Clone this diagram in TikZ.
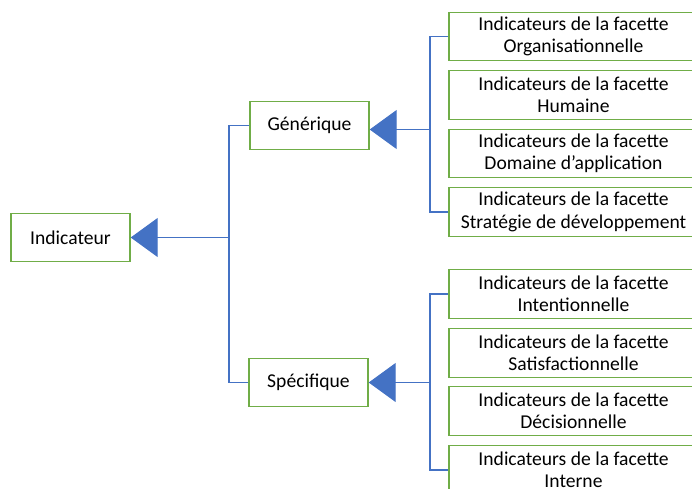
\documentclass[tikz,border=0pt]{standalone}
\usepackage{fontspec}
\setmainfont{Carlito}
\usetikzlibrary{arrows.meta}
\definecolor{boxgreen}{HTML}{70AD47}
\definecolor{linkblue}{HTML}{4472C4}
\tikzset{
  box/.style={draw=boxgreen, line width=1.4pt, fill=white, inner sep=0pt,
    minimum height=48.5pt, align=center, font=\fontsize{19.6}{22.5}\selectfont},
  smallbox/.style={box, minimum width=119pt},
  facet/.style={box, minimum width=249pt},
  conn/.style={draw=linkblue, line width=1.1pt},
  tri/.style={conn, -{Triangle[length=27pt,width=39pt,fill=linkblue]}},
}
\begin{document}
\begin{tikzpicture}[x=1pt,y=-1pt]
\useasboundingbox (0,0) rectangle (692,488);
\clip (0,0) rectangle (692,488);
% main nodes
\node[smallbox] (ind) at (70.5,237.5) {Indicateur};
\node[smallbox] (gen) at (309.5,125.5) {Générique};
\node[smallbox] (spe) at (308.5,382.5) {Spécifique};
% facet boxes
\node[facet] (f1) at (573.5,36.5) {Indicateurs de la facette\\Organisationnelle};
\node[facet] (f2) at (573.5,95) {Indicateurs de la facette\\Humaine};
\node[facet] (f3) at (573.5,153.5) {Indicateurs de la facette\\Domaine d’application};
\node[facet] (f4) at (573.5,212) {Indicateurs de la facette\\Stratégie de développement};
\node[facet] (f5) at (573.5,294) {Indicateurs de la facette\\Intentionnelle};
\node[facet] (f6) at (573.5,353) {Indicateurs de la facette\\Satisfactionnelle};
\node[facet] (f7) at (573.5,411) {Indicateurs de la facette\\Décisionnelle};
\node[facet] (f8) at (573.5,470) {Indicateurs de la facette\\Interne};
% junctions
\coordinate (j1) at (229,237.5);
\coordinate (j2) at (430,129.5);
\coordinate (j3) at (430,382.5);
% left tree
\draw[conn] (gen.west) -| (j1) |- (spe.west);
\draw[tri] (j1) -- (ind.east);
% generic branch
\draw[conn] (f1.west) -| (j2) |- (f4.west);
\draw[tri] (j2) -- ([yshift=-4pt]gen.east);
% specific branch
\draw[conn] (f5.west) -| (j3) |- (f8.west);
\draw[tri] (j3) -- (spe.east);
\end{tikzpicture}
\end{document}
